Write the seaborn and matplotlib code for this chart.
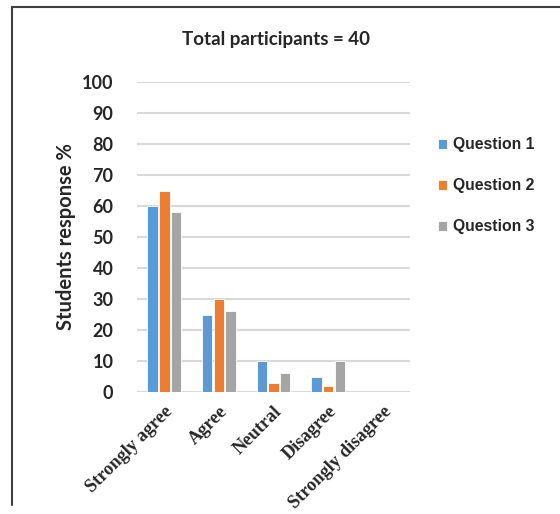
import pandas as pd
import matplotlib
matplotlib.use("Agg")
import matplotlib.pyplot as plt
import seaborn as sns
from matplotlib.lines import Line2D

# Datos
categorias = ['Strongly agree', 'Agree', 'Neutral', 'Disagree', 'Strongly disagree']
question_1 = [60, 25, 10, 5, 0]
question_2 = [65, 30, 3, 2, 0]
question_3 = [58, 26, 6, 10, 0]
series = ['Question 1', 'Question 2', 'Question 3']
colores = ['#5B9BD5', '#ED7D31', '#A5A5A5']

df = pd.DataFrame({
    'Respuesta': categorias * 3,
    'Valor': question_1 + question_2 + question_3,
    'Serie': [s for s in series for _ in categorias],
})

sns.set_style('white')
plt.rcParams['font.family'] = ['Lato', 'DejaVu Sans']

fig = plt.figure(figsize=(5.6, 5.14), dpi=100)
ax = fig.add_axes([137 / 560, 1 - 392 / 514, 273 / 560, 310 / 514])

sns.barplot(data=df, x='Respuesta', y='Valor', hue='Serie', palette=colores,
            saturation=1, width=0.64, gap=0.1, edgecolor='white', linewidth=0.6, ax=ax)

ax.set_ylim(0, 100)
ax.set_yticks(range(0, 101, 10))
ax.grid(axis='y', color='#d9d9d9', linewidth=1.5)
ax.set_axisbelow(True)
for s in ax.spines.values():
    s.set_visible(False)
ax.tick_params(axis='both', length=0)
ax.tick_params(axis='y', pad=17)

for t in ax.get_yticklabels():
    t.set_fontsize(13)
    t.set_fontweight('bold')
ax.set_xticks(range(len(categorias)))
ax.set_xticklabels(categorias, rotation=45, ha='right', rotation_mode='anchor',
                   fontsize=13.2, fontweight='bold', family='Liberation Serif')
ax.tick_params(axis='x', pad=8)

ax.set_xlabel('')
ax.set_ylabel('Students response %', fontsize=14.5, fontweight='bold', labelpad=4)
fig.text(276 / 560, 1 - 40 / 514, 'Total participants = 40', ha='center', va='center',
         fontsize=13.5, fontweight='bold')

ax.legend(loc='center left', bbox_to_anchor=(1.05, 0.665), frameon=False,
          prop={'family': 'Liberation Sans', 'weight': 'bold', 'size': 11.3},
          handlelength=0.6, handleheight=0.6, handletextpad=0.4, labelspacing=1.65)

# Marco de la imagen
fig.add_artist(Line2D([12 / 560, 12 / 560], [1 - 505 / 514, 1 - 7 / 514], color='#404040', lw=1.5))
fig.add_artist(Line2D([12 / 560, 1], [1 - 7 / 514, 1 - 7 / 514], color='#404040', lw=1.5))

plt.savefig('out.png', dpi=100)
